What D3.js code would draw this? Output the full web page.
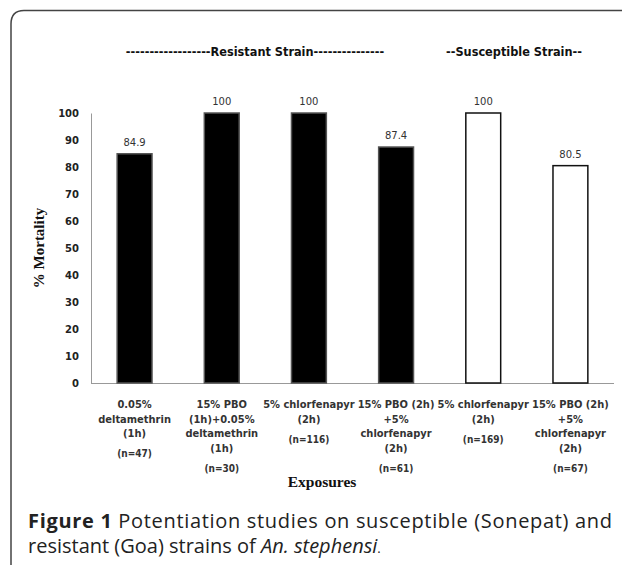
<!DOCTYPE html>
<html>
<head>
<meta charset="utf-8">
<script src="https://cdn.jsdelivr.net/npm/d3@7"></script>
<style>
  body { margin: 0; background: #fff; }
  svg { display: block; }
</style>
</head>
<body>
<div id="vis"></div>
<script>
// chart values
var exposures = ['e1', 'e2', 'e3', 'e4', 'e5', 'e6'];
var mortality = [84.9, 100, 100, 87.4, 100, 80.5];
var strain = ['R', 'R', 'R', 'R', 'S', 'S'];
var labelLines = [
  ['0.05%', 'deltamethrin', '(1h)'],
  ['15% PBO', '(1h)+0.05%', 'deltamethrin', '(1h)'],
  ['5% chlorfenapyr', '(2h)'],
  ['15% PBO (2h)', '+5%', 'chlorfenapyr', '(2h)'],
  ['5% chlorfenapyr', '(2h)'],
  ['15% PBO (2h)', '+5%', 'chlorfenapyr', '(2h)']
];
var sampleSizes = ['(n=47)', '(n=30)', '(n=116)', '(n=61)', '(n=169)', '(n=67)'];
var yTicks = [0, 10, 20, 30, 40, 50, 60, 70, 80, 90, 100];

var width = 622;
var height = 565;
var labelFont = 'DejaVu Sans Condensed, sans-serif';

var svg = d3.select('#vis').append('svg')
  .attr('width', width)
  .attr('height', height);

// rounded frame around the figure
svg.append('path')
  .attr('d', 'M11,565 L11,24 Q11,10.5 24,10.5 L622,10.5')
  .attr('fill', 'none')
  .attr('stroke', '#444')
  .attr('stroke-width', 1.5);

var x = d3.scaleBand()
  .domain(exposures)
  .range([91, 614])
  .paddingInner(0.6)
  .paddingOuter(0.3);

var y = d3.scaleLinear()
  .domain([0, 100])
  .range([383, 113]);

// y axis
var yAxis = d3.axisLeft(y).tickValues(yTicks).tickSize(0).tickPadding(12);
var gy = svg.append('g')
  .attr('transform', 'translate(91,0)')
  .call(yAxis);
gy.select('.domain').attr('stroke', '#999');
gy.selectAll('text')
  .attr('font-family', 'DejaVu Sans, sans-serif')
  .attr('font-size', 10)
  .attr('font-weight', 'bold')
  .attr('fill', '#222');

// x axis line
svg.append('line')
  .attr('x1', 91).attr('x2', 614)
  .attr('y1', y(0) + 0.5).attr('y2', y(0) + 0.5)
  .attr('stroke', '#999');

// bars
svg.selectAll('.bar')
  .data(mortality)
  .enter().append('rect')
  .attr('class', 'bar')
  .attr('x', function (d, i) { return x(exposures[i]); })
  .attr('y', function (d) { return y(d); })
  .attr('width', x.bandwidth())
  .attr('height', function (d) { return y(0) - y(d); })
  .attr('fill', function (d, i) { return strain[i] === 'R' ? '#000' : '#fff'; })
  .attr('stroke', function (d, i) { return strain[i] === 'R' ? '#555' : '#111'; })
  .attr('stroke-width', 1.5);

// value labels
svg.selectAll('.val')
  .data(mortality)
  .enter().append('text')
  .attr('class', 'val')
  .attr('x', function (d, i) { return x(exposures[i]) + x.bandwidth() / 2; })
  .attr('y', function (d) { return y(d) - 8; })
  .attr('text-anchor', 'middle')
  .attr('font-family', 'DejaVu Sans, sans-serif')
  .attr('font-size', 10)
  .attr('fill', '#333')
  .text(function (d) { return d; });

// category labels
var cat = svg.selectAll('.cat')
  .data(labelLines)
  .enter().append('text')
  .attr('class', 'cat')
  .attr('text-anchor', 'middle')
  .attr('font-family', labelFont)
  .attr('font-size', 11)
  .attr('font-weight', 'bold')
  .attr('fill', '#333');
cat.each(function (lines, i) {
  var cx = x(exposures[i]) + x.bandwidth() / 2;
  var t = d3.select(this);
  lines.forEach(function (s, j) {
    t.append('tspan').attr('x', cx).attr('y', 408 + j * 14.5).text(s);
  });
  t.append('tspan')
    .attr('x', cx)
    .attr('y', 408 + (lines.length - 1) * 14.5 + 20)
    .attr('font-size', 10)
    .text(sampleSizes[i]);
});

// strain headers
svg.append('text')
  .attr('x', 255).attr('y', 56)
  .attr('text-anchor', 'middle')
  .attr('font-family', 'DejaVu Sans Condensed, DejaVu Sans, sans-serif')
  .attr('font-size', 12.6)
  .attr('font-weight', 'bold')
  .attr('fill', '#111')
  .text('------------------Resistant  Strain---------------');
svg.append('text')
  .attr('x', 514).attr('y', 56)
  .attr('text-anchor', 'middle')
  .attr('font-family', 'DejaVu Sans Condensed, DejaVu Sans, sans-serif')
  .attr('font-size', 12.6)
  .attr('font-weight', 'bold')
  .attr('fill', '#111')
  .text('--Susceptible Strain--');

// axis titles
svg.append('text')
  .attr('x', 322).attr('y', 487)
  .attr('text-anchor', 'middle')
  .attr('font-family', 'Liberation Serif, serif')
  .attr('font-size', 15.5)
  .attr('font-weight', 'bold')
  .attr('fill', '#111')
  .text('Exposures');
svg.append('text')
  .attr('transform', 'translate(44,248) rotate(-90)')
  .attr('text-anchor', 'middle')
  .attr('font-family', 'Liberation Serif, serif')
  .attr('font-size', 15)
  .attr('font-weight', 'bold')
  .attr('fill', '#111')
  .text('% Mortality');

// caption
var cap = svg.append('text')
  .attr('font-family', 'Open Sans, sans-serif')
  .attr('font-size', 20)
  .attr('fill', '#222');
var l1 = cap.append('tspan').attr('x', 28).attr('y', 528)
  .attr('textLength', 584).attr('lengthAdjust', 'spacing');
l1.append('tspan').attr('font-weight', 'bold').text('Figure 1');
l1.append('tspan').text(' Potentiation studies on susceptible (Sonepat) and');
var l2 = svg.append('text')
  .attr('x', 28).attr('y', 553)
  .attr('font-family', 'Open Sans, sans-serif')
  .attr('font-size', 20)
  .attr('fill', '#222');
l2.append('tspan').text('resistant (Goa) strains of ');
l2.append('tspan').attr('font-style', 'italic').text('An. stephensi');
l2.append('tspan').attr('font-size', 13).text('.');
</script>
</body>
</html>
